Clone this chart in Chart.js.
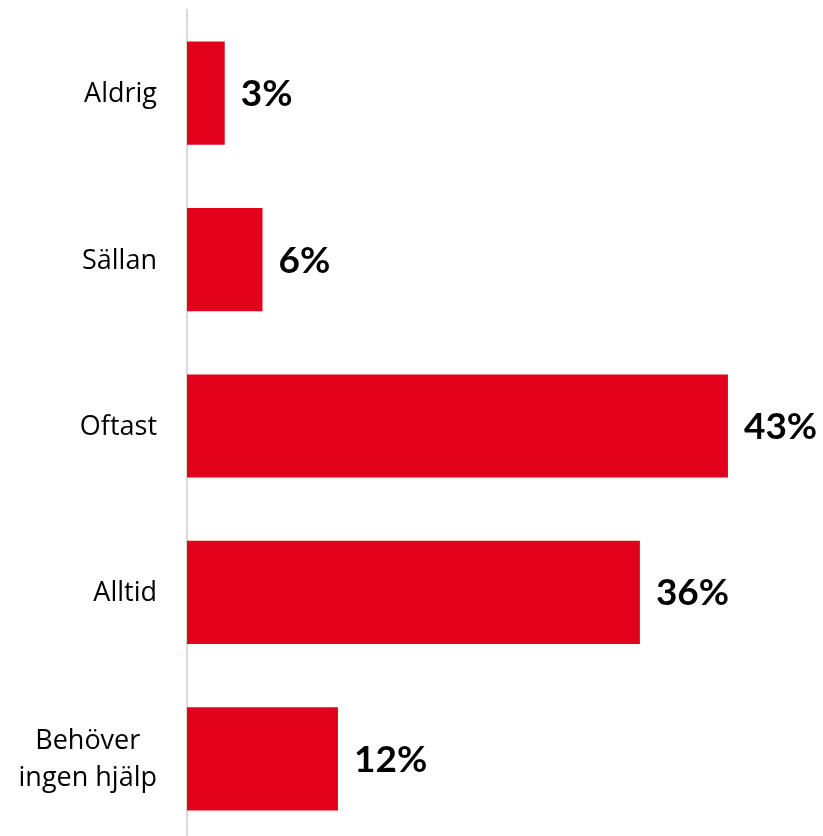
<!DOCTYPE html>
<html>
<head>
<meta charset="utf-8">
<script src="https://cdn.jsdelivr.net/npm/chart.js@4/dist/chart.umd.min.js"></script>
<style>
  html, body { margin:0; padding:0; background:#fff; overflow:hidden; }
  #wrap { width:823px; height:842px; }
</style>
</head>
<body>
<div id="wrap"><canvas id="c"></canvas></div>
<script>
const categories = ['Aldrig', 'Sällan', 'Oftast', 'Alltid', ['Behöver', 'ingen hjälp']];
const values = [3, 6, 43, 36, 12];

// category labels: single words right aligned, wrapped ones centred as a block
const categoryLabels = {
  id: 'categoryLabels',
  afterDraw(chart){
    const ctx = chart.ctx;
    const y = chart.scales.y;
    const right = y.right - 30;
    ctx.save();
    ctx.fillStyle = '#000';
    ctx.font = '27px "Open Sans", sans-serif';
    ctx.textBaseline = 'alphabetic';
    categories.forEach((label, i)=>{
      const cy = y.getPixelForTick(i);
      if(Array.isArray(label)){
        const w = Math.max(...label.map(l=>ctx.measureText(l).width));
        const cx = right - w/2;
        ctx.textAlign = 'center';
        const step = 37;
        const first = cy + 9 - step*(label.length-1)/2;
        label.forEach((l, j)=> ctx.fillText(l, cx, first + j*step));
      } else {
        ctx.textAlign = 'right';
        ctx.fillText(label, right, cy + 9);
      }
    });
    ctx.restore();
  }
};

// draws the bold % next to each bar
const valueLabels = {
  id: 'valueLabels',
  afterDatasetsDraw(chart){
    const ctx = chart.ctx;
    const meta = chart.getDatasetMeta(0);
    ctx.save();
    ctx.fillStyle = '#000';
    ctx.font = 'bold 37px Lato, sans-serif';
    ctx.textAlign = 'left';
    ctx.textBaseline = 'alphabetic';
    meta.data.forEach((bar, i)=>{
      ctx.fillText(values[i] + '%', bar.x + 16, bar.y + 13);
    });
    ctx.restore();
  }
};

new Chart(document.getElementById('c'), {
  type:'bar',
  data:{
    labels: categories,
    datasets:[{
      data: values,
      backgroundColor:'#E3001B',
      barPercentage:0.62,
      categoryPercentage:1
    }]
  },
  options:{
    indexAxis:'y',
    responsive:true,
    maintainAspectRatio:false,
    animation:false,
    layout:{ padding:{ top:10, right:7, bottom:0, left:0 } },
    plugins:{ legend:{display:false}, tooltip:{enabled:false} },
    scales:{
      x:{
        min:0, max:50,
        display:false
      },
      y:{
        afterFit(scale){
          scale.width = 187;
          scale.paddingTop = 0;
          scale.paddingBottom = 0;
        },
        grid:{ display:false, drawTicks:false },
        border:{ display:true, color:'#d9d9d9', width:2 },
        ticks:{ display:false }
      }
    }
  },
  plugins:[valueLabels, categoryLabels]
});
</script>
</body>
</html>
